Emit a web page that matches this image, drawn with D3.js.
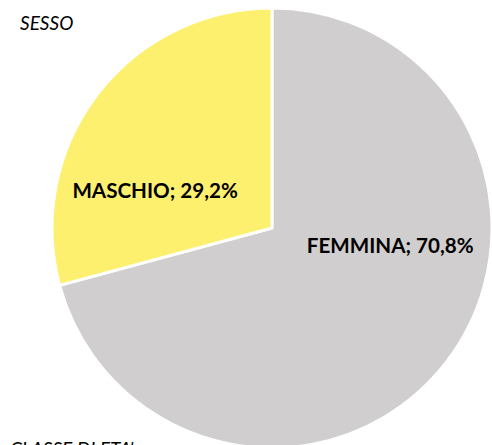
<!DOCTYPE html>
<html>
<head>
<meta charset="utf-8">
<script src="https://cdn.jsdelivr.net/npm/d3@7"></script>
<style>
  html, body { margin: 0; padding: 0; background: #ffffff; }
  svg { display: block; }
</style>
</head>
<body>
<svg id="chart" width="492" height="445"></svg>
<script>
var categories = ["FEMMINA", "MASCHIO"];          // slice names, in drawing order from 12 o'clock
var values = [70.8, 29.2];                        // percentages
var colours = ["#D0CECE", "#FDF06E"];             // slice fills
var titleTop = "SESSO";                           // section title above the pie
var titleBottom = "CLASSE DI ETA'";               // next section title, cut by the frame

var width = 492, height = 445;
var cx = 272, cy = 228, radius = 220;

// where Excel put the data labels: angle (deg, clockwise from 12) and fraction of radius
var labelPolar = [
  { angle: 98.4, r: 0.543 },
  { angle: 287.8, r: 0.558 }
];

var svg = d3.select("#chart");

var data = categories.map(function (c, i) {
  return { name: c, value: values[i], colour: colours[i], lp: labelPolar[i] };
});

var pie = d3.pie()
  .value(function (d) { return d.value; })
  .sort(null);

var arc = d3.arc()
  .innerRadius(0)
  .outerRadius(radius);

var g = svg.append("g")
  .attr("transform", "translate(" + cx + "," + cy + ")");

var slices = g.selectAll("g.slice")
  .data(pie(data))
  .enter().append("g")
  .attr("class", "slice");

slices.append("path")
  .attr("d", arc)
  .attr("fill", function (d) { return d.data.colour; })
  .attr("stroke", "#ffffff")
  .attr("stroke-width", 3)
  .attr("stroke-linejoin", "round");

// italian number format: comma for decimals
function fmt(v) {
  return v.toFixed(1).replace(".", ",") + "%";
}

slices.append("text")
  .attr("transform", function (d) {
    var a = d.data.lp.angle * Math.PI / 180;
    var r = d.data.lp.r * radius;
    return "translate(" + (Math.sin(a) * r) + "," + (-Math.cos(a) * r) + ")";
  })
  .attr("text-anchor", "middle")
  .attr("dy", "0.35em")
  .attr("style", "font-family: Lato, 'Open Sans', sans-serif; font-weight: bold; font-size: 20.6px; fill: #000000;")
  .text(function (d) { return d.data.name + "; " + fmt(d.data.value); });

svg.append("text")
  .attr("x", 20)
  .attr("y", 30)
  .attr("style", "font-family: Lato, 'Open Sans', sans-serif; font-style: italic; font-size: 19px; fill: #000000;")
  .text(titleTop);

svg.append("text")
  .attr("x", 10)
  .attr("y", 456)
  .attr("style", "font-family: Lato, 'Open Sans', sans-serif; font-style: italic; font-size: 19px; fill: #000000;")
  .text(titleBottom);
</script>
</body>
</html>
